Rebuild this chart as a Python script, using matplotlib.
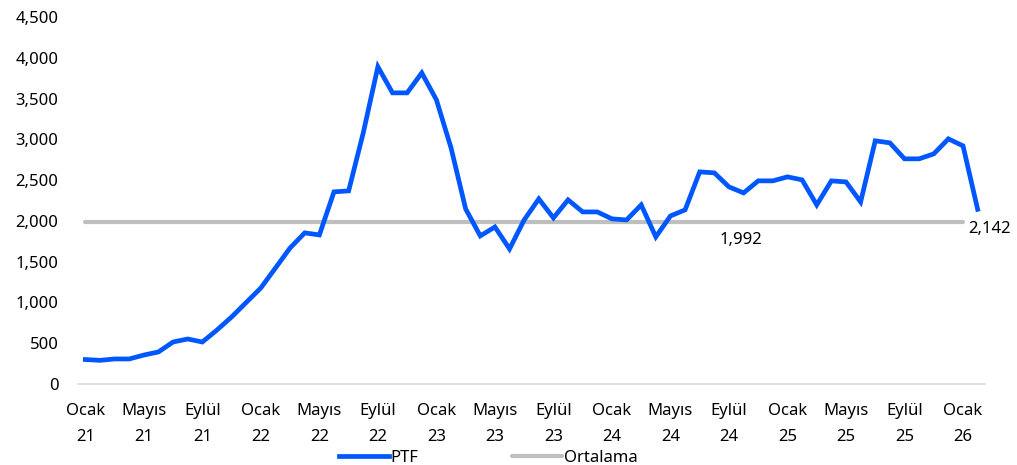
import numpy as np
import matplotlib
matplotlib.use("Agg")
import matplotlib.pyplot as plt
from matplotlib.ticker import FuncFormatter

plt.rcParams['font.family'] = ['Noto Sans', 'DejaVu Sans']

# Aylar ve yıllar (Ocak 21 - Şubat 26)
aylar = ["Ocak", "Şubat", "Mart", "Nisan", "Mayıs", "Haziran",
         "Temmuz", "Ağustos", "Eylül", "Ekim", "Kasım", "Aralık"]
yillar = [21, 22, 23, 24, 25, 26]

# PTF değerleri (aylık)
ptf = [300, 290, 307, 307, 355, 393, 515, 552, 515, 662, 822, 1000,
       1178, 1423, 1669, 1853, 1828, 2356, 2368, 3080, 3890, 3570, 3570, 3815,
       3485, 2896, 2147, 1816, 1926, 1656, 2012, 2270, 2037, 2258, 2110, 2110,
       2025, 2012, 2196, 1804, 2061, 2135, 2601, 2589, 2417, 2343, 2491, 2491,
       2540, 2503, 2196, 2491, 2478, 2233, 2982, 2957, 2761, 2761, 2822, 3006,
       2920, 2142]
ortalama = 1992
ortalama_n = 61  # Ocak 21 - Ocak 26

kategoriler = [f"{aylar[i % 12]}\n{yillar[i // 12]}" for i in range(len(ptf))]

fig = plt.figure(figsize=(10.17, 4.65), dpi=100)
ax = fig.add_axes([0.0767, 0.1742, 0.8918, 0.7892])

x = np.arange(len(ptf))
ax.plot(x, ptf, color='#0057FF', lw=3.4, solid_joinstyle='miter', label='PTF', zorder=3)
ax.plot(x[:ortalama_n], [ortalama] * ortalama_n, color='#BFBFBF', lw=3.0,
        solid_capstyle='round', label='Ortalama', zorder=2)

ax.set_xlim(-0.5, len(ptf) - 0.5)
ax.set_ylim(0, 4500)
ax.set_yticks(np.arange(0, 4501, 500))
ax.yaxis.set_major_formatter(FuncFormatter(lambda v, p: f"{int(v):,}"))
ticks = x[::4]
ax.set_xticks(ticks)
ax.set_xticklabels([kategoriler[i] for i in ticks], linespacing=1.85)

for s in ['top', 'right', 'left']:
    ax.spines[s].set_visible(False)
ax.spines['bottom'].set_color('#D9D9D9')
ax.spines['bottom'].set_linewidth(1.2)
ax.tick_params(axis='both', length=0, labelsize=12, colors='#000000')
ax.tick_params(axis='y', pad=14)
ax.tick_params(axis='x', pad=13.5)

ax.annotate(f"{ortalama:,}", xy=(45, ortalama), xytext=(-2, -13),
            textcoords='offset points', ha='center', va='center', fontsize=12)
ax.annotate(f"{ptf[-1]:,}", xy=(x[-1], ptf[-1]), xytext=(-7, -14),
            textcoords='offset points', ha='left', va='center', fontsize=12,
            annotation_clip=False)

fig.legend(loc='lower center', bbox_to_anchor=(0.48, -0.035), ncol=2, frameon=False,
           fontsize=12, handlelength=3.0, handletextpad=0.1, columnspacing=5.6)

fig.savefig("out.png", dpi=100)
